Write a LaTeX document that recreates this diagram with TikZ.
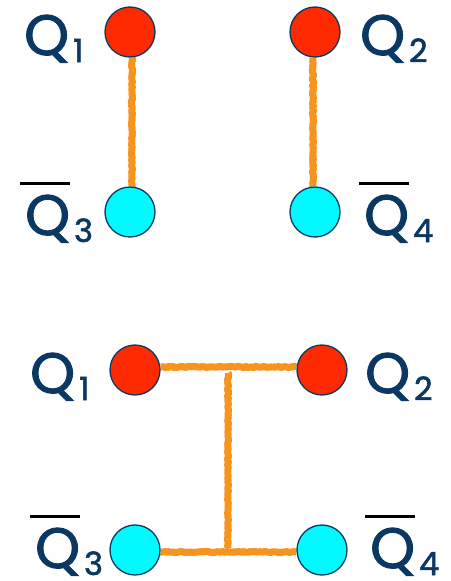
\documentclass[tikz,border=0pt]{standalone}
\usepackage{fontspec}
\setmainfont{Poppins}[FakeBold=1.8]
\usetikzlibrary{decorations.pathmorphing,backgrounds}
\definecolor{navy}{RGB}{10,56,98}
\definecolor{qred}{RGB}{255,42,0}
\definecolor{qcyan}{RGB}{0,250,255}
\definecolor{rope}{RGB}{246,148,30}
\newcommand{\qlab}[1]{Q\kern4pt\raisebox{-7pt}{\fontsize{32}{32}\selectfont #1}}
\newcommand{\qbar}[1]{\makebox[0pt][l]{\kern-5pt\raisebox{50pt}{\color{black}\rule{50pt}{3.3pt}}}\qlab{#1}}
\begin{document}
\begin{tikzpicture}[x=1pt,y=-1pt,
  dot/.style={circle,draw=navy,line width=1.3pt,minimum size=50pt,inner sep=0pt},
  reddot/.style={dot,fill=qred},
  cyandot/.style={dot,fill=qcyan},
  lab/.style={anchor=base west,inner sep=0pt,text=navy,font=\fontsize{57}{60}\selectfont},
  link/.style={rope,line width=7pt,line join=round,line cap=butt,decorate,decoration={random steps,segment length=1.5pt,amplitude=0.6pt}},
  linkb/.style={rope,line width=6pt}]
\useasboundingbox (0,0) rectangle (450,581);
% top pair
\node[reddot] (a1) at (130,32) {};
\node[cyandot] (a3) at (130,212) {};
\node[reddot] (a2) at (315,32) {};
\node[cyandot] (a4) at (315,212) {};
\node[lab] (la1) at (24,55) {\qlab{1}};
\node[lab] (la2) at (360,55) {\qlab{2}};
\node[lab] (la3) at (25,235) {\qbar{3}};
\node[lab] (la4) at (364,235) {\qbar{4}};
% bottom
\node[reddot] (b1) at (135,370) {};
\node[reddot] (b2) at (322,370) {};
\node[cyandot] (b3) at (135,550) {};
\node[cyandot] (b4) at (322,550) {};
\node[lab] (lb1) at (30,393) {\qlab{1}};
\node[lab] (lb2) at (365,393) {\qlab{2}};
\node[lab] (lb3) at (35,568) {\qbar{3}};
\node[lab] (lb4) at (370,568) {\qbar{4}};
\coordinate (j1) at (228,373);
\coordinate (j2) at (228,548);
\begin{scope}[on background layer]
\draw[linkb] ([xshift=2pt]a1.south) -- ([xshift=2pt]a3.north);
\draw[link] ([xshift=2pt]a1.south) -- ([xshift=2pt]a3.north);
\draw[linkb] ([xshift=-2pt]a2.south) -- ([xshift=-2pt]a4.north);
\draw[link] ([xshift=-2pt]a2.south) -- ([xshift=-2pt]a4.north);
\draw[linkb] ([yshift=3pt]b1.east) -- ([yshift=3pt]b2.west);
\draw[link] ([yshift=3pt]b1.east) -- ([yshift=3pt]b2.west);
\draw[linkb] (j1) -- (j2);
\draw[link] (j1) -- (j2);
\draw[linkb] ([yshift=-2pt]b3.east) -- ([yshift=-2pt]b4.west);
\draw[link] ([yshift=-2pt]b3.east) -- ([yshift=-2pt]b4.west);
\end{scope}
\end{tikzpicture}
\end{document}
